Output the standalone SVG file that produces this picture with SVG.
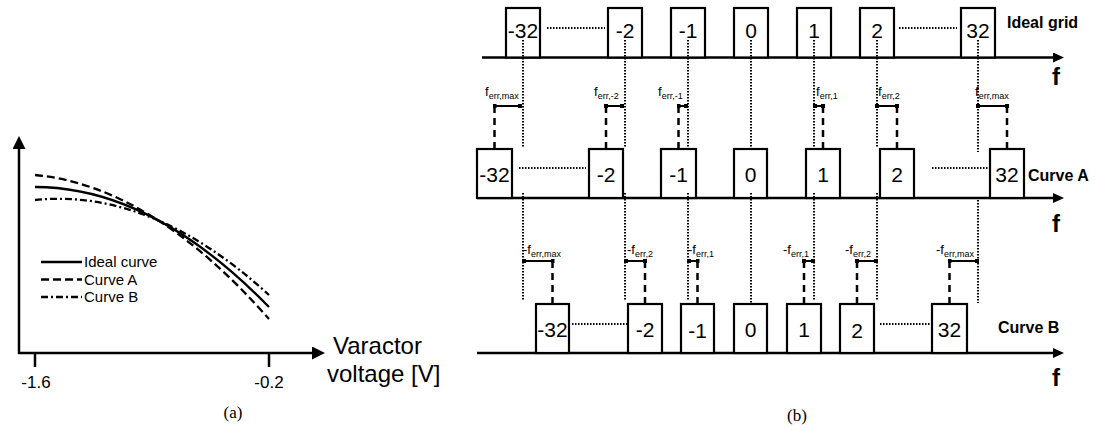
<svg xmlns="http://www.w3.org/2000/svg" width="1095" height="430" viewBox="0 0 1095 430">
<defs>
<style>
text{font-family:"Liberation Sans",Arial,sans-serif;fill:#000}
.box{fill:#fff;stroke:#000;stroke-width:2.2}
.bl{font-size:21px;text-anchor:middle}
.axis{stroke:#000;stroke-width:2.5;fill:none}
.tick{stroke:#000;stroke-width:2.5}
.dot{stroke:#000;stroke-width:2;stroke-dasharray:1.5 1.5;fill:none}
.dash{stroke:#000;stroke-width:2.5;stroke-dasharray:7 5;fill:none}
.err{stroke:#000;stroke-width:2;fill:none;marker-start:url(#sq);marker-end:url(#sq)}
.lbl{font-size:13px}
.sub{font-size:9px}
.row{font-size:16px;font-weight:bold}
.f{font-size:24px;font-weight:bold}
.leg{font-size:15px}
.num{font-size:17px;text-anchor:middle}
.vt{font-size:24px}
.cap{font-family:"Liberation Serif","Times New Roman",serif;font-size:17px;text-anchor:middle}
.cv{fill:none;stroke:#000;stroke-width:2.3}
.cA{stroke-dasharray:8 4}
.cB{stroke-dasharray:7 3 2 3}
</style>
<marker id="arr" markerWidth="12" markerHeight="10" refX="1" refY="5" orient="auto" markerUnits="userSpaceOnUse"><path d="M0,0 L11,5 L0,10 Z" fill="#000"/></marker>
<marker id="arrA" markerWidth="13" markerHeight="13" refX="1" refY="6.5" orient="auto" markerUnits="userSpaceOnUse"><path d="M0,0 L13,6.5 L0,13 Z" fill="#000"/></marker>
<marker id="sq" markerWidth="4" markerHeight="4" refX="2" refY="2" markerUnits="userSpaceOnUse"><rect width="4" height="4" fill="#000"/></marker>
</defs>
<rect width="1095" height="430" fill="#fff"/>

<!-- Panel (a) -->
<g id="panel-a">
<line class="axis" x1="19" y1="354" x2="19" y2="148" marker-end="url(#arrA)"/>
<line class="axis" x1="18" y1="353" x2="313" y2="353" marker-end="url(#arrA)"/>
<line class="tick" x1="35" y1="353" x2="35" y2="367"/>
<line class="tick" x1="269" y1="353" x2="269" y2="367"/>
<text class="num" x="36" y="388">-1.6</text>
<text class="num" x="269" y="388">-0.2</text>
<text class="vt" x="333" y="354">Varactor</text>
<text class="vt" x="327" y="382">voltage [V]</text>
<path class="cv" d="M35,187 Q152,187 269,307"/>
<path class="cv cA" d="M35,175 Q152,186 269,319"/>
<path class="cv cB" d="M35,200 Q152,188 269,295"/>
<line class="cv" x1="41" y1="262" x2="82" y2="262"/>
<line class="cv cA" x1="41" y1="279.5" x2="82" y2="279.5"/>
<line class="cv cB" x1="41" y1="297" x2="82" y2="297"/>
<text class="leg" x="84" y="267">Ideal curve</text>
<text class="leg" x="84" y="285">Curve A</text>
<text class="leg" x="84" y="302">Curve B</text>
<text class="cap" x="233" y="418">(a)</text>
</g>

<!-- Panel (b): axes and row labels -->
<g id="axes-b">
<line class="axis" x1="482" y1="57.5" x2="1054" y2="57.5" marker-end="url(#arr)"/>
<line class="axis" x1="477" y1="198" x2="1054" y2="198" marker-end="url(#arr)"/>
<line class="axis" x1="477" y1="353" x2="1054" y2="353" marker-end="url(#arr)"/>
<text class="row" x="1007" y="28">Ideal grid</text>
<text class="row" x="1028" y="181">Curve A</text>
<text class="row" x="998" y="333">Curve B</text>
<text class="f" x="1052" y="85">f</text>
<text class="f" x="1052" y="232">f</text>
<text class="f" x="1052" y="386">f</text>
<text class="cap" x="797" y="421">(b)</text>
</g>

<!-- Ideal grid boxes -->
<g id="ideal-m32"><rect class="box" x="506" y="8" width="34" height="49.5"/><text class="bl" x="523" y="38">-32</text></g>
<g id="ideal-m2"><rect class="box" x="608" y="8" width="34" height="49.5"/><text class="bl" x="625" y="38">-2</text></g>
<g id="ideal-m1"><rect class="box" x="671" y="8" width="34" height="49.5"/><text class="bl" x="688" y="38">-1</text></g>
<g id="ideal-0"><rect class="box" x="734" y="8" width="34" height="49.5"/><text class="bl" x="751" y="38">0</text></g>
<g id="ideal-1"><rect class="box" x="797" y="8" width="34" height="49.5"/><text class="bl" x="814" y="38">1</text></g>
<g id="ideal-2"><rect class="box" x="860" y="8" width="34" height="49.5"/><text class="bl" x="877" y="38">2</text></g>
<g id="ideal-32"><rect class="box" x="961" y="8" width="34" height="49.5"/><text class="bl" x="978" y="38">32</text></g>

<!-- Curve A boxes -->
<g id="a-m32"><rect class="box" x="477" y="149" width="35" height="49"/><text class="bl" x="494.5" y="182">-32</text></g>
<g id="a-m2"><rect class="box" x="589" y="149" width="34" height="49"/><text class="bl" x="606" y="182">-2</text></g>
<g id="a-m1"><rect class="box" x="661" y="149" width="35" height="49"/><text class="bl" x="678.5" y="182">-1</text></g>
<g id="a-0"><rect class="box" x="734" y="149" width="33" height="49"/><text class="bl" x="750.5" y="182">0</text></g>
<g id="a-1"><rect class="box" x="806" y="149" width="34" height="49"/><text class="bl" x="823" y="182">1</text></g>
<g id="a-2"><rect class="box" x="880" y="149" width="34" height="49"/><text class="bl" x="897" y="182">2</text></g>
<g id="a-32"><rect class="box" x="990" y="149" width="34" height="49"/><text class="bl" x="1007" y="182">32</text></g>

<!-- Curve B boxes -->
<g id="b-m32"><rect class="box" x="536" y="304" width="33" height="49"/><text class="bl" x="552.5" y="337">-32</text></g>
<g id="b-m2"><rect class="box" x="628" y="304" width="34" height="49"/><text class="bl" x="645" y="337">-2</text></g>
<g id="b-m1"><rect class="box" x="681" y="304" width="33" height="49"/><text class="bl" x="697.5" y="338">-1</text></g>
<g id="b-0"><rect class="box" x="734" y="304" width="33" height="49"/><text class="bl" x="750.5" y="337">0</text></g>
<g id="b-1"><rect class="box" x="787" y="304" width="34" height="49"/><text class="bl" x="804" y="337">1</text></g>
<g id="b-2"><rect class="box" x="840" y="304" width="34" height="49"/><text class="bl" x="857" y="338">2</text></g>
<g id="b-32"><rect class="box" x="932" y="304" width="35" height="49"/><text class="bl" x="949.5" y="337">32</text></g>

<!-- Connectors -->
<g id="connectors">
<line class="dot" x1="547" y1="28" x2="605" y2="28"/>
<line class="dot" x1="899" y1="28" x2="957" y2="28"/>
<line class="dot" x1="519" y1="168" x2="586" y2="168"/>
<line class="dot" x1="932" y1="168" x2="988" y2="168"/>
<line class="dot" x1="572" y1="324" x2="627" y2="324"/>
<line class="dot" x1="880" y1="324" x2="930" y2="324"/>
<path class="dot" d="M523,40V148M523,193V300"/>
<path class="dot" d="M625,40V148M625,193V300"/>
<path class="dot" d="M688,40V148M688,193V300"/>
<path class="dot" d="M751,40V148M751,193V304"/>
<path class="dot" d="M814,40V148M814,193V300"/>
<path class="dot" d="M877,40V148M877,193V300"/>
<path class="dot" d="M978,40V152M978,197V303"/>
<line class="dash" x1="494.5" y1="106" x2="494.5" y2="149"/>
<line class="dash" x1="606" y1="106" x2="606" y2="149"/>
<line class="dash" x1="678.5" y1="106" x2="678.5" y2="149"/>
<line class="dash" x1="823" y1="106" x2="823" y2="149"/>
<line class="dash" x1="897" y1="106" x2="897" y2="149"/>
<line class="dash" x1="1007" y1="106" x2="1007" y2="149"/>
<line class="err" x1="494.5" y1="106" x2="520" y2="106"/>
<line class="err" x1="606" y1="106" x2="622" y2="106"/>
<line class="err" x1="678.5" y1="106" x2="686" y2="106"/>
<line class="err" x1="815" y1="106" x2="823" y2="106"/>
<line class="err" x1="877" y1="106" x2="897" y2="106"/>
<line class="err" x1="978" y1="106" x2="1007" y2="106"/>
<line class="dash" x1="552.5" y1="261" x2="552.5" y2="304"/>
<line class="dash" x1="645" y1="261" x2="645" y2="304"/>
<line class="dash" x1="697.5" y1="261" x2="697.5" y2="304"/>
<line class="dash" x1="804" y1="261" x2="804" y2="304"/>
<line class="dash" x1="857" y1="261" x2="857" y2="304"/>
<line class="dash" x1="949.5" y1="261" x2="949.5" y2="304"/>
<line class="err" x1="524" y1="261" x2="552.5" y2="261"/>
<line class="err" x1="626" y1="261" x2="645" y2="261"/>
<line class="err" x1="689" y1="261" x2="697.5" y2="261"/>
<line class="err" x1="804" y1="261" x2="813" y2="261"/>
<line class="err" x1="857" y1="261" x2="876" y2="261"/>
<line class="err" x1="949.5" y1="261" x2="977" y2="261"/>
</g>

<g id="labels-a">
<text class="lbl" x="485" y="96">f<tspan class="sub" dy="3">err,max</tspan></text>
<text class="lbl" x="594" y="96">f<tspan class="sub" dy="3">err,-2</tspan></text>
<text class="lbl" x="658" y="96">f<tspan class="sub" dy="3">err,-1</tspan></text>
<text class="lbl" x="816" y="96">f<tspan class="sub" dy="3">err,1</tspan></text>
<text class="lbl" x="878" y="96">f<tspan class="sub" dy="3">err,2</tspan></text>
<text class="lbl" x="975" y="96">f<tspan class="sub" dy="3">err,max</tspan></text>
</g>
<g id="labels-b">
<text class="lbl" x="523" y="254">-f<tspan class="sub" dy="3">err,max</tspan></text>
<text class="lbl" x="627" y="254">-f<tspan class="sub" dy="3">err,2</tspan></text>
<text class="lbl" x="688" y="254">-f<tspan class="sub" dy="3">err,1</tspan></text>
<text class="lbl" x="783" y="254">-f<tspan class="sub" dy="3">err,1</tspan></text>
<text class="lbl" x="845" y="254">-f<tspan class="sub" dy="3">err,2</tspan></text>
<text class="lbl" x="936" y="254">-f<tspan class="sub" dy="3">err,max</tspan></text>
</g>
</svg>
